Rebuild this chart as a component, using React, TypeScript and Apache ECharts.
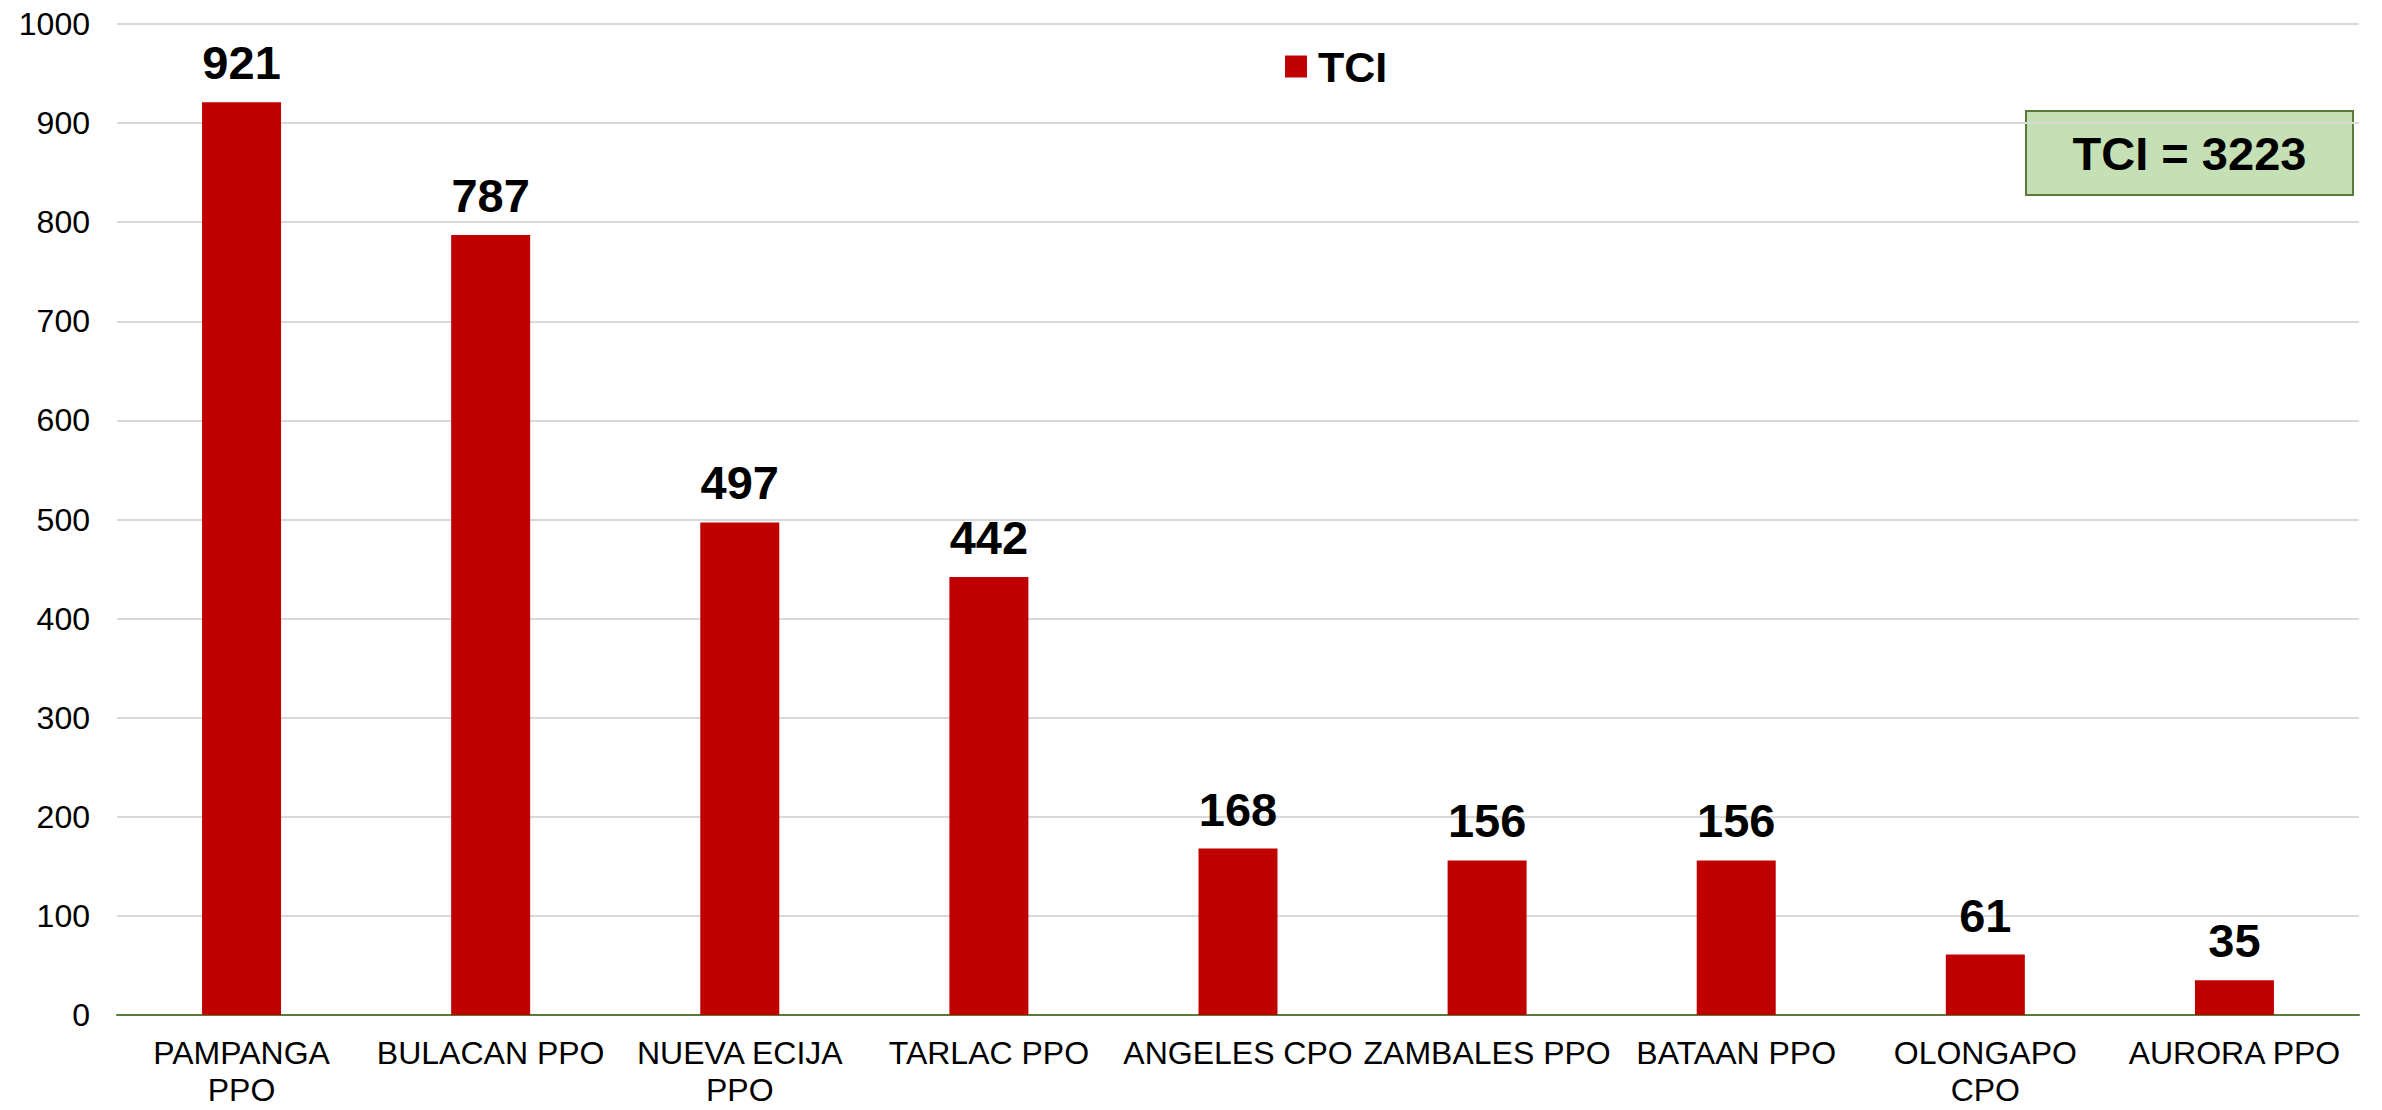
import React, { useEffect, useRef } from "react";
import * as echarts from "echarts";

const categories = [
  "PAMPANGA\nPPO",
  "BULACAN PPO",
  "NUEVA ECIJA\nPPO",
  "TARLAC PPO",
  "ANGELES CPO",
  "ZAMBALES PPO",
  "BATAAN PPO",
  "OLONGAPO\nCPO",
  "AURORA PPO",
];
const tciValues = [921, 787, 497, 442, 168, 156, 156, 61, 35];
const seriesName = "TCI";
const totalLabel = "TCI = 3223";
const yMin = 0;
const yMax = 1000;
const yInterval = 100;

const FONT = "'Liberation Sans', Arial, sans-serif";

export default function App() {
  const ref = useRef<HTMLDivElement>(null);
  useEffect(() => {
    document.body.style.margin = "0";
    const chart = echarts.init(ref.current!, null, { renderer: "svg" });
    chart.setOption({
      animation: false,
      backgroundColor: "#ffffff",
      textStyle: { fontFamily: FONT },
      grid: { left: 117, right: 23, top: 24, bottom: 95, containLabel: false },
      legend: {
        data: [seriesName],
        left: 1280,
        top: 40,
        icon: "rect",
        itemWidth: 22,
        itemHeight: 22,
        itemGap: 10,
        textStyle: {
          fontFamily: FONT,
          fontSize: 43,
          fontWeight: "bold",
          color: "#000",
          padding: [0, 0, 0, 6],
        },
      },
      xAxis: {
        type: "category",
        data: categories,
        axisLine: { show: true, lineStyle: { color: "#5a7a3a", width: 2 } },
        axisTick: { show: false },
        axisLabel: {
          interval: 0,
          fontFamily: FONT,
          fontSize: 32,
          lineHeight: 37,
          color: "#000",
          margin: 19,
        },
      },
      yAxis: {
        type: "value",
        min: yMin,
        max: yMax,
        interval: yInterval,
        axisLine: { show: false },
        axisTick: { show: false },
        axisLabel: {
          fontFamily: FONT,
          fontSize: 32,
          color: "#000",
          margin: 27,
          formatter: (v: number) => String(v),
        },
        splitLine: { lineStyle: { color: "#d9d9d9", width: 2 } },
      },
      series: [
        {
          name: seriesName,
          type: "bar",
          data: tciValues,
          barWidth: 79,
          itemStyle: { color: "#c00000" },
          label: {
            show: true,
            position: "top",
            distance: 16,
            fontFamily: FONT,
            fontSize: 47,
            fontWeight: "bold",
            color: "#000",
          },
        },
      ],
      graphic: [
        {
          type: "group",
          left: 2025,
          top: 110,
          children: [
            {
              type: "rect",
              shape: { x: 0, y: 0, width: 327, height: 84 },
              style: { fill: "#c5e0b4", stroke: "#5a7a3a", lineWidth: 2 },
            },
            {
              type: "text",
              x: 163.5,
              y: 42,
              style: {
                text: totalLabel,
                fontFamily: FONT,
                fontSize: 47,
                fontWeight: "bold",
                fill: "#000",
                align: "center",
                verticalAlign: "middle",
              },
            },
          ],
        },
      ],
    });
    return () => chart.dispose();
  }, []);
  return (
    <div
      ref={ref}
      style={{ position: "absolute", left: 0, top: 0, width: 2382, height: 1110 }}
    />
  );
}
